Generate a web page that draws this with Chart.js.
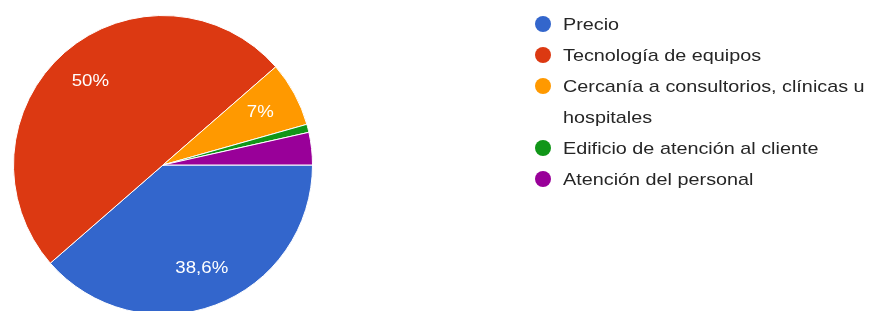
<!DOCTYPE html>
<html>
<head>
<meta charset="utf-8">
<script src="https://cdn.jsdelivr.net/npm/chart.js@4"></script>
<style>
  html, body { margin: 0; padding: 0; background: #fff; overflow: hidden; }
  #wrap { position: relative; width: 873px; height: 330px; }
</style>
</head>
<body>
<div id="wrap"><canvas id="pieChart" width="873" height="330"></canvas></div>
<script>
// respuestas por categoría (n = 114)
const categories = [
  "Precio",
  "Tecnología de equipos",
  "Cercanía a consultorios, clínicas u hospitales",
  "Edificio de atención al cliente",
  "Atención del personal"
];
const legendLines = [
  ["Precio"],
  ["Tecnología de equipos"],
  ["Cercanía a consultorios, clínicas u", "hospitales"],
  ["Edificio de atención al cliente"],
  ["Atención del personal"]
];
const counts = [44, 57, 8, 1, 4];
const colors = ["#3366cc", "#dc3912", "#ff9900", "#109618", "#990099"];

// la captura original está algo ensanchada en horizontal
const STRETCH = 1.165;

function pctText(v, total) {
  let p = (v / total * 100).toFixed(1);
  if (p.endsWith(".0")) p = p.slice(0, -2);
  return p.replace(".", ",") + "%";
}

function wideText(ctx, text, x, y, align) {
  const w = ctx.measureText(text).width * STRETCH;
  const left = align === "center" ? x - w / 2 : x;
  ctx.save();
  ctx.translate(left, y);
  ctx.scale(STRETCH, 1);
  ctx.textAlign = "left";
  ctx.fillText(text, 0, 0);
  ctx.restore();
}

// etiquetas de porcentaje dentro de las porciones
const sliceLabels = {
  id: "sliceLabels",
  afterDatasetsDraw(chart) {
    const ctx = chart.ctx;
    const meta = chart.getDatasetMeta(0);
    const data = chart.data.datasets[0].data;
    const total = data.reduce((a, b) => a + b, 0);
    ctx.save();
    ctx.fillStyle = "#fff";
    ctx.font = "16px 'Liberation Sans', Arial, sans-serif";
    ctx.textBaseline = "middle";
    meta.data.forEach((arc, i) => {
      if (data[i] / total < 0.05) return;
      const mid = (arc.startAngle + arc.endAngle) / 2;
      const r = arc.outerRadius * 0.74;
      wideText(ctx, pctText(data[i], total), arc.x + Math.cos(mid) * r, arc.y + Math.sin(mid) * r, "center");
    });
    ctx.restore();
  }
};

// leyenda a la derecha
const sideLegend = {
  id: "sideLegend",
  afterDraw(chart) {
    const ctx = chart.ctx;
    const x0 = 543, tx = 563;
    let y = 24;
    const lineH = 31;
    ctx.save();
    ctx.font = "17px 'Liberation Sans', Arial, sans-serif";
    ctx.textBaseline = "middle";
    legendLines.forEach((lines, i) => {
      ctx.fillStyle = colors[i];
      ctx.beginPath();
      ctx.arc(x0, y, 8, 0, Math.PI * 2);
      ctx.fill();
      ctx.fillStyle = "#262626";
      lines.forEach((t) => {
        wideText(ctx, t, tx, y + 1, "left");
        y += lineH;
      });
    });
    ctx.restore();
  }
};

new Chart(document.getElementById("pieChart").getContext("2d"), {
  type: "pie",
  data: {
    labels: categories,
    datasets: [{
      data: counts,
      backgroundColor: colors,
      borderColor: "#fff",
      borderWidth: 1
    }]
  },
  options: {
    responsive: false,
    animation: false,
    rotation: 90,
    layout: { padding: { left: 13, top: 15, right: 560, bottom: 15 } },
    plugins: {
      legend: { display: false },
      tooltip: { enabled: false }
    }
  },
  plugins: [sliceLabels, sideLegend]
});
</script>
</body>
</html>
